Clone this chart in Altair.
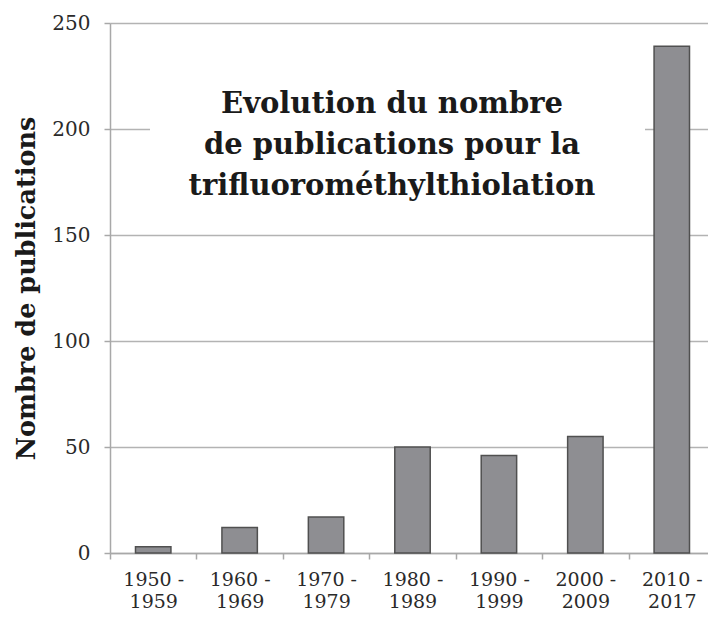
import altair as alt
import pandas as pd

periods = ["1950 -\n1959", "1960 -\n1969", "1970 -\n1979", "1980 -\n1989",
           "1990 -\n1999", "2000 -\n2009", "2010 -\n2017"]
counts = [3, 12, 17, 50, 46, 55, 239]
title_lines = ["Evolution du nombre", "de publications pour la", "trifluorométhylthiolation"]

df = pd.DataFrame({"period": periods, "count": counts})

x = alt.X("period:N", sort=periods,
          scale=alt.Scale(range=[0, 605], paddingInner=0, paddingOuter=0),
          axis=alt.Axis(title=None, labelAngle=0, tickBand="extent", grid=False,
                        labelExpr="split(datum.label, '\\n')",
                        labelFont="DejaVu Serif", labelFontSize=19, labelColor="#2a2a2a",
                        labelLineHeight=22, labelPadding=11, labelBaseline="top",
                        tickSize=6, tickColor="#a8a8a8", tickWidth=1.5,
                        domainColor="#a8a8a8", domainWidth=1.5))
y = alt.Y("count:Q", scale=alt.Scale(domain=[0, 250]),
          axis=alt.Axis(title="Nombre de publications", values=[0, 50, 100, 150, 200, 250],
                        titleFont="DejaVu Serif", titleFontSize=25.5, titleFontWeight="bold",
                        titleColor="#1a1a1a", titlePadding=12,
                        labelFont="DejaVu Serif", labelFontSize=20, labelColor="#2a2a2a",
                        labelPadding=14, tickSize=6, tickColor="#a8a8a8", tickWidth=1.5,
                        domainColor="#a8a8a8", domainWidth=1.5,
                        gridColor="#b3b3b3", gridWidth=1.5))

bars = alt.Chart(df).mark_bar(width=alt.RelativeBandSize(0.41), color="#8e8e92",
                              stroke="#505050", strokeWidth=1.5).encode(x=x, y=y)

box = alt.Chart(pd.DataFrame({"a": [0]})).mark_rect(color="white").encode(
    x=alt.value(40), x2=alt.value(535), y=alt.value(62), y2=alt.value(182))

label = alt.Chart(pd.DataFrame({"t": ["\n".join(title_lines)]})).mark_text(
    font="DejaVu Serif", fontSize=29, fontWeight="bold", color="#1a1a1a",
    align="center", baseline="alphabetic", lineBreak="\n", lineHeight=41
).encode(text="t:N", x=alt.value(282), y=alt.value(90))

chart = alt.layer(box, bars, label).properties(
    width=598, height=530,
    autosize=alt.AutoSizeParams(type="none"),
    padding={"left": 102, "top": 15, "right": 0, "bottom": 62},
).configure_view(stroke=None)

chart.save("out.html", embed_options={"renderer": "svg", "actions": False})
